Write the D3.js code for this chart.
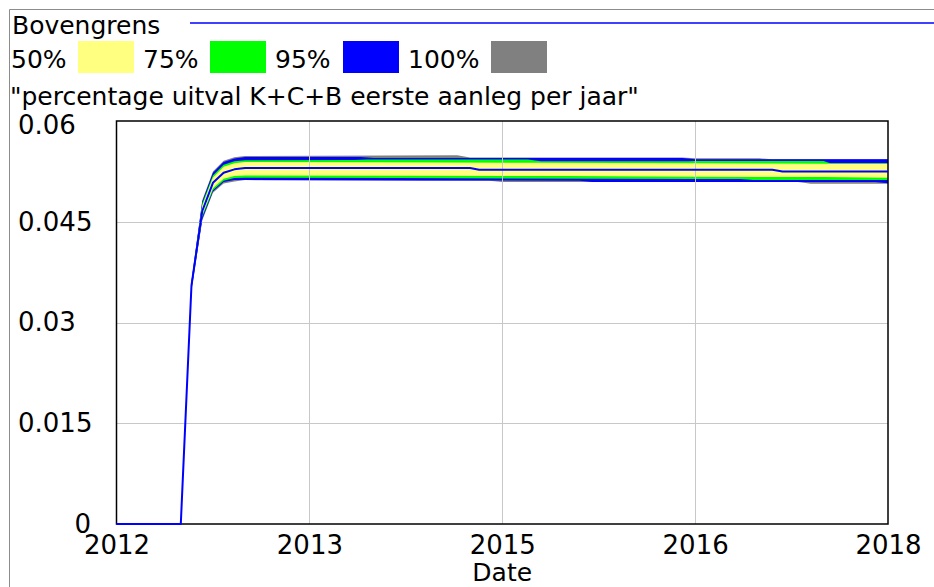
<!DOCTYPE html>
<html>
<head>
<meta charset="utf-8">
<script src="https://cdn.jsdelivr.net/npm/d3@7"></script>
<style>
  body { margin: 0; background: #fff; }
  svg { display: block; }
  text { font-family: "DejaVu Sans", Verdana, sans-serif; fill: #000; }
</style>
</head>
<body>
<svg id="chart" width="934" height="587"></svg>
<script>
// Axis ticks and their printed labels
const yearTicks = [2012, 2013.5, 2015, 2016.5, 2018];
const yearTickLabels = ["2012", "2013", "2015", "2016", "2018"];
const valueTicks = [0, 0.015, 0.03, 0.045, 0.06];
const valueTickLabels = ["0", "0.015", "0.03", "0.045", "0.06"];

// Confidence bands (legend order) and their fill colours
const bandLabels = ["50%", "75%", "95%", "100%"];
const bandColors = ["#ffff80", "#00ff00", "#0000ff", "#808080"];

const seriesName = "Bovengrens";
const variableTitle = "\"percentage uitval K+C+B eerste aanleg per jaar\"";
const xTitle = "Date";

// Sensitivity envelopes: [year, value] pairs for each bound
const hi100 = [[2012,0],[2012.5,0],[2012.583,0.0362],[2012.667,0.0482],[2012.75,0.0525],[2012.833,0.0541],[2012.917,0.0546],[2013,0.0548],[2014.65,0.0549],[2014.75,0.05455],[2016.4,0.05455],[2016.5,0.05445],[2017.0,0.05445],[2017.1,0.0543],[2018,0.0543]];
const hi95  = [[2012,0],[2012.5,0],[2012.583,0.0361],[2012.667,0.0480],[2012.75,0.0523],[2012.833,0.0539],[2012.917,0.0544],[2013,0.05465],[2013.9,0.05465],[2014.0,0.0545],[2016.4,0.0545],[2016.5,0.0543],[2018,0.0543]];
const hi75  = [[2012,0],[2012.5,0],[2012.583,0.0359],[2012.667,0.0477],[2012.75,0.0519],[2012.833,0.0535],[2012.917,0.0540],[2013,0.05415],[2013.85,0.05418],[2013.95,0.05425],[2015.2,0.05425],[2015.3,0.0540],[2016.45,0.0540],[2016.5,0.05405],[2017.5,0.05405],[2017.55,0.0537],[2018,0.0537]];
const hi50  = [[2012,0],[2012.5,0],[2012.583,0.0357],[2012.667,0.0474],[2012.75,0.0516],[2012.833,0.0532],[2012.917,0.0537],[2013,0.0539],[2014.0,0.05385],[2015.25,0.05378],[2016.5,0.0537],[2017.55,0.05365],[2018,0.05362]];
const baseRun = [[2012,0],[2012.5,0],[2012.583,0.0355],[2012.667,0.0466],[2012.75,0.0508],[2012.833,0.0523],[2012.917,0.0528],[2013,0.0530],[2014.75,0.0530],[2014.82,0.05275],[2017.1,0.05275],[2017.18,0.05248],[2018,0.05248]];
const lo50  = [[2012,0],[2012.5,0],[2012.583,0.0353],[2012.667,0.0460],[2012.75,0.0500],[2012.833,0.0514],[2012.917,0.0518],[2013,0.0519],[2014.2,0.05185],[2015.5,0.0518],[2016.5,0.0517],[2017.5,0.05165],[2018,0.05155]];
const lo75  = [[2012,0],[2012.5,0],[2012.583,0.0351],[2012.667,0.0457],[2012.75,0.0497],[2012.833,0.0511],[2012.917,0.0515],[2013,0.05156],[2014.2,0.0515],[2016.5,0.05137],[2016.85,0.05137],[2016.95,0.0512],[2018,0.0512]];
const lo95  = [[2012,0],[2012.5,0],[2012.583,0.0349],[2012.667,0.0454],[2012.75,0.0495],[2012.833,0.0509],[2012.917,0.0512],[2013,0.05122],[2014.4,0.05115],[2015.6,0.05112],[2015.7,0.05092],[2017.9,0.05092],[2018,0.05072]];
const lo100 = [[2012,0],[2012.5,0],[2012.583,0.0347],[2012.667,0.0452],[2012.75,0.0493],[2012.833,0.0507],[2012.917,0.0510],[2013,0.0512],[2014.9,0.0511],[2015.0,0.0509],[2017.3,0.0509],[2017.4,0.05065],[2018,0.05065]];

const svg = d3.select("#chart");
const FONT = 25;
const TICK_FONT = 26;

// Outer panel border
svg.append("path")
  .attr("d", "M9.5,587 V9.5 H934")
  .attr("fill", "none").attr("stroke", "#8c8c8c").attr("stroke-width", 1);

// Legend: base-run line
svg.append("text").attr("x", 12).attr("y", 34).attr("font-size", FONT).text(seriesName);
svg.append("line").attr("x1", 190).attr("x2", 934).attr("y1", 23).attr("y2", 23)
  .attr("stroke", "#0000ff").attr("stroke-width", 1.5);

// Legend: confidence bands
const legendX = [11, 143, 275, 408];
const swatchX = [78, 210, 343, 491];
bandLabels.forEach((lab, i) => {
  svg.append("text").attr("x", legendX[i]).attr("y", 68).attr("font-size", FONT).text(lab);
  svg.append("rect").attr("x", swatchX[i]).attr("y", 41).attr("width", 56).attr("height", 32)
    .attr("fill", bandColors[i]);
});

svg.append("text").attr("x", 10).attr("y", 105).attr("font-size", FONT).text(variableTitle);

// Scales
const x = d3.scaleLinear().domain([2012, 2018]).range([116.5, 888]);
const y = d3.scaleLinear().domain([0, 0.06]).range([524, 121]);

const line = d3.line().x(d => x(d[0])).y(d => y(d[1]));
const bandPath = (upper, lower) => line(upper.concat(lower.slice().reverse())) + "Z";

// Bands, outermost first
const bands = [[hi100, lo100, bandColors[3]], [hi95, lo95, bandColors[2]],
               [hi75, lo75, bandColors[1]], [hi50, lo50, bandColors[0]]];
svg.append("g").selectAll("path").data(bands).join("path")
  .attr("d", d => bandPath(d[0], d[1]))
  .attr("fill", d => d[2]).attr("stroke", "none");

// Grid lines
const grid = svg.append("g").attr("stroke", "#c8c8c8").attr("stroke-width", 1);
grid.selectAll("line.v").data(yearTicks.slice(1, -1)).join("line").attr("class", "v")
  .attr("x1", d => Math.round(x(d)) + 0.5).attr("x2", d => Math.round(x(d)) + 0.5)
  .attr("y1", y(0.06)).attr("y2", y(0));
grid.selectAll("line.h").data(valueTicks.slice(1, -1)).join("line").attr("class", "h")
  .attr("x1", x(2012)).attr("x2", x(2018))
  .attr("y1", d => Math.round(y(d)) + 0.5).attr("y2", d => Math.round(y(d)) + 0.5);

// Plot frame
svg.append("rect").attr("x", x(2012)).attr("y", y(0.06))
  .attr("width", x(2018) - x(2012)).attr("height", y(0) - y(0.06))
  .attr("fill", "none").attr("stroke", "#000").attr("stroke-width", 1.5);

// Base run line
svg.append("path").attr("d", line(baseRun))
  .attr("fill", "none").attr("stroke", "#0000ff").attr("stroke-width", 2)
  .attr("stroke-linejoin", "round");

// Axes
const xAxis = d3.axisBottom(x).tickValues(yearTicks)
  .tickFormat((d, i) => yearTickLabels[i]).tickSize(0).tickPadding(12);
const gx = svg.append("g").attr("transform", `translate(0,${y(0)})`).call(xAxis);
gx.select(".domain").remove();
gx.selectAll("text").attr("font-size", TICK_FONT).attr("font-family", "DejaVu Sans, Verdana, sans-serif").attr("fill", "#000");

const yAxis = d3.axisRight(y).tickValues(valueTicks)
  .tickFormat((d, i) => valueTickLabels[i]).tickSize(0).tickPadding(0);
const gy = svg.append("g").attr("transform", "translate(18,0)").call(yAxis);
gy.select(".domain").remove();
gy.selectAll("text").attr("font-size", TICK_FONT).attr("font-family", "DejaVu Sans, Verdana, sans-serif").attr("fill", "#000");
// the origin label sits tucked against the corner, just above the first date
gy.selectAll(".tick").filter(d => d === 0).select("text")
  .attr("text-anchor", "end").attr("x", 73);
// the top label is nudged down to sit inside the frame's height
gy.selectAll(".tick").filter(d => d === 0.06).select("text")
  .attr("dy", "0.48em");

svg.append("text").attr("x", (x(2012) + x(2018)) / 2).attr("y", 581)
  .attr("text-anchor", "middle").attr("font-size", FONT).text(xTitle);
</script>
</body>
</html>
